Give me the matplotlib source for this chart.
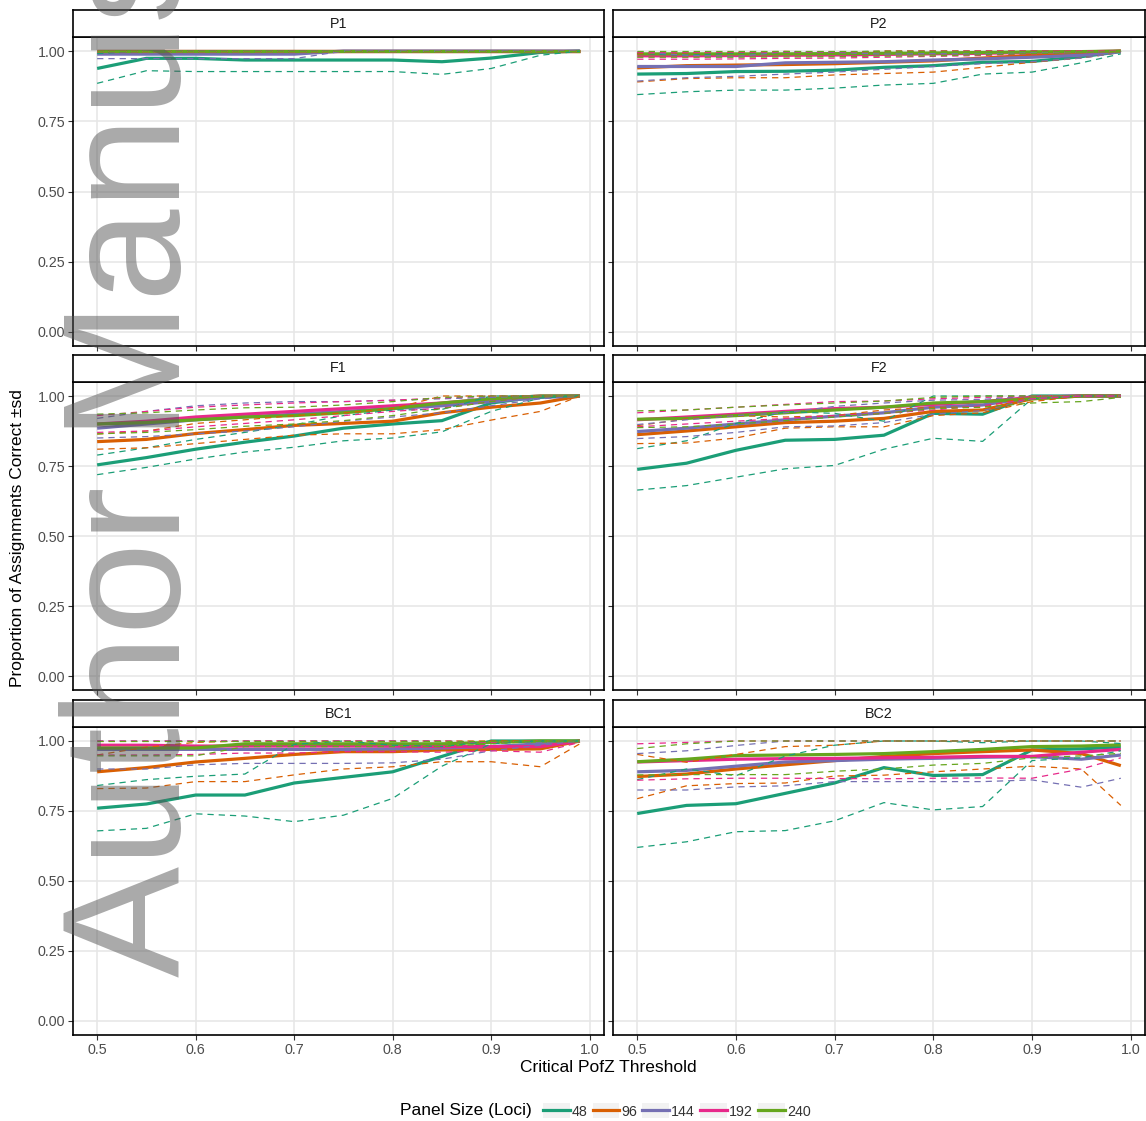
import numpy as np
import matplotlib
matplotlib.use("Agg")
import matplotlib.pyplot as plt
from matplotlib.patches import Patch
from matplotlib.lines import Line2D
from matplotlib.legend_handler import HandlerTuple

plt.rcParams['font.family'] = ['Liberation Sans', 'DejaVu Sans']

# ---- data -------------------------------------------------------------
thresholds = [0.50, 0.55, 0.60, 0.65, 0.70, 0.75, 0.80, 0.85, 0.90, 0.95, 0.99]
panel_sizes = ['48', '96', '144', '192', '240']
panel_names = ['P1', 'P2', 'F1', 'F2', 'BC1', 'BC2']

# mean proportion correct, one row per panel size (48, 96, 144, 192, 240)
p1_mean = [[0.938, 0.974, 0.974, 0.968, 0.968, 0.968, 0.968, 0.962, 0.975, 0.995, 1.0],
           [1.0, 1.0, 1.0, 1.0, 1.0, 1.0, 1.0, 1.0, 1.0, 1.0, 1.0],
           [0.989, 0.989, 0.989, 0.989, 0.989, 1.0, 1.0, 1.0, 1.0, 1.0, 1.0],
           [1.0, 1.0, 1.0, 1.0, 1.0, 1.0, 1.0, 1.0, 1.0, 1.0, 1.0],
           [1.0, 1.0, 1.0, 1.0, 1.0, 1.0, 1.0, 1.0, 1.0, 1.0, 1.0]]
p1_sd = [[0.053, 0.044, 0.047, 0.041, 0.041, 0.041, 0.041, 0.045, 0.037, 0.01, 0.0],
         [0.0, 0.0, 0.0, 0.0, 0.0, 0.0, 0.0, 0.0, 0.0, 0.0, 0.0],
         [0.016, 0.016, 0.016, 0.016, 0.016, 0.0, 0.0, 0.0, 0.0, 0.0, 0.0],
         [0.0, 0.0, 0.0, 0.0, 0.0, 0.0, 0.0, 0.0, 0.0, 0.0, 0.0],
         [0.0, 0.0, 0.0, 0.0, 0.0, 0.0, 0.0, 0.0, 0.0, 0.0, 0.0]]

p2_mean = [[0.918, 0.92, 0.927, 0.928, 0.932, 0.942, 0.948, 0.96, 0.963, 0.98, 0.998],
           [0.94, 0.948, 0.95, 0.952, 0.955, 0.96, 0.965, 0.975, 0.985, 0.99, 1.0],
           [0.945, 0.945, 0.945, 0.958, 0.96, 0.962, 0.968, 0.972, 0.978, 0.985, 0.998],
           [0.983, 0.983, 0.984, 0.985, 0.986, 0.988, 0.99, 0.992, 0.995, 0.997, 1.0],
           [0.99, 0.99, 0.99, 0.99, 0.991, 0.992, 0.993, 0.995, 0.997, 0.998, 1.0]]
p2_sd = [[0.073, 0.065, 0.066, 0.067, 0.064, 0.063, 0.063, 0.042, 0.038, 0.022, 0.008],
         [0.05, 0.046, 0.045, 0.047, 0.04, 0.04, 0.04, 0.033, 0.025, 0.015, 0.005],
         [0.052, 0.04, 0.035, 0.04, 0.035, 0.027, 0.023, 0.017, 0.016, 0.01, 0.003],
         [0.012, 0.012, 0.012, 0.011, 0.011, 0.01, 0.009, 0.008, 0.005, 0.003, 0.0],
         [0.012, 0.012, 0.012, 0.011, 0.011, 0.01, 0.01, 0.008, 0.006, 0.004, 0.0]]

f1_mean = [[0.754, 0.78, 0.81, 0.835, 0.857, 0.885, 0.9, 0.912, 0.975, 0.998, 1.0],
           [0.837, 0.845, 0.866, 0.88, 0.895, 0.902, 0.91, 0.94, 0.96, 0.975, 1.0],
           [0.885, 0.9, 0.915, 0.925, 0.935, 0.945, 0.955, 0.965, 0.98, 0.995, 1.0],
           [0.9, 0.91, 0.925, 0.935, 0.945, 0.955, 0.965, 0.975, 0.99, 1.0, 1.0],
           [0.9, 0.905, 0.915, 0.925, 0.93, 0.94, 0.955, 0.975, 0.99, 1.0, 1.0]]
f1_sd = [[0.035, 0.035, 0.035, 0.035, 0.04, 0.045, 0.05, 0.04, 0.03, 0.005, 0.0],
         [0.027, 0.03, 0.036, 0.035, 0.035, 0.037, 0.045, 0.06, 0.046, 0.03, 0.0],
         [0.035, 0.045, 0.05, 0.05, 0.045, 0.035, 0.03, 0.025, 0.015, 0.005, 0.0],
         [0.03, 0.035, 0.035, 0.033, 0.03, 0.025, 0.02, 0.018, 0.01, 0.0, 0.0],
         [0.035, 0.035, 0.035, 0.033, 0.03, 0.028, 0.025, 0.02, 0.01, 0.0, 0.0]]

f2_mean = [[0.738, 0.76, 0.806, 0.842, 0.845, 0.86, 0.938, 0.935, 1.0, 1.0, 1.0],
           [0.862, 0.875, 0.89, 0.905, 0.91, 0.92, 0.945, 0.95, 0.99, 1.0, 1.0],
           [0.873, 0.885, 0.9, 0.915, 0.928, 0.94, 0.96, 0.968, 0.995, 1.0, 1.0],
           [0.915, 0.925, 0.935, 0.945, 0.955, 0.96, 0.97, 0.98, 0.995, 1.0, 1.0],
           [0.917, 0.92, 0.93, 0.94, 0.95, 0.96, 0.975, 0.98, 0.99, 1.0, 1.0]]
f2_sd = [[0.074, 0.08, 0.096, 0.102, 0.093, 0.05, 0.089, 0.097, 0.01, 0.0, 0.0],
         [0.032, 0.043, 0.04, 0.02, 0.02, 0.03, 0.015, 0.01, 0.01, 0.0, 0.0],
         [0.025, 0.03, 0.03, 0.025, 0.035, 0.035, 0.025, 0.02, 0.005, 0.0, 0.0],
         [0.025, 0.025, 0.025, 0.025, 0.025, 0.022, 0.02, 0.015, 0.005, 0.0, 0.0],
         [0.03, 0.03, 0.03, 0.028, 0.025, 0.022, 0.02, 0.02, 0.015, 0.02, 0.005]]

bc1_mean = [[0.76, 0.775, 0.807, 0.807, 0.85, 0.87, 0.89, 0.945, 1.0, 1.0, 1.0],
            [0.89, 0.905, 0.925, 0.938, 0.952, 0.962, 0.962, 0.968, 0.97, 0.972, 1.0],
            [0.97, 0.97, 0.97, 0.97, 0.97, 0.97, 0.972, 0.975, 0.98, 0.99, 1.0],
            [0.985, 0.985, 0.982, 0.982, 0.982, 0.982, 0.982, 0.98, 0.98, 0.98, 1.0],
            [0.975, 0.975, 0.975, 0.99, 0.99, 0.99, 0.99, 0.99, 0.995, 1.0, 1.0]]
bc1_sd = [[0.081, 0.087, 0.067, 0.075, 0.138, 0.135, 0.095, 0.035, 0.01, 0.0, 0.0],
          [0.06, 0.073, 0.07, 0.083, 0.073, 0.062, 0.054, 0.042, 0.044, 0.064, 0.01],
          [0.07, 0.07, 0.055, 0.05, 0.05, 0.05, 0.05, 0.04, 0.015, 0.005, 0.0],
          [0.035, 0.035, 0.03, 0.025, 0.025, 0.02, 0.02, 0.02, 0.015, 0.02, 0.005],
          [0.028, 0.028, 0.028, 0.01, 0.01, 0.01, 0.01, 0.01, 0.005, 0.0, 0.0]]

bc2_mean = [[0.741, 0.77, 0.776, 0.813, 0.85, 0.905, 0.877, 0.88, 0.968, 0.972, 0.978],
            [0.873, 0.882, 0.9, 0.915, 0.93, 0.945, 0.955, 0.962, 0.968, 0.955, 0.912],
            [0.89, 0.895, 0.91, 0.925, 0.93, 0.935, 0.938, 0.942, 0.944, 0.935, 0.95],
            [0.925, 0.93, 0.935, 0.937, 0.938, 0.94, 0.942, 0.945, 0.945, 0.96, 0.97],
            [0.926, 0.935, 0.948, 0.95, 0.952, 0.955, 0.962, 0.97, 0.98, 0.982, 0.986]]
bc2_sd = [[0.121, 0.13, 0.1, 0.133, 0.135, 0.125, 0.123, 0.114, 0.038, 0.032, 0.013],
          [0.079, 0.042, 0.052, 0.065, 0.055, 0.067, 0.065, 0.062, 0.058, 0.055, 0.142],
          [0.065, 0.07, 0.074, 0.085, 0.075, 0.08, 0.083, 0.087, 0.083, 0.1, 0.083],
          [0.065, 0.065, 0.068, 0.07, 0.072, 0.075, 0.075, 0.077, 0.078, 0.06, 0.03],
          [0.047, 0.055, 0.068, 0.07, 0.06, 0.055, 0.048, 0.05, 0.04, 0.035, 0.03]]

means = [p1_mean, p2_mean, f1_mean, f2_mean, bc1_mean, bc2_mean]
sds = [p1_sd, p2_sd, f1_sd, f2_sd, bc1_sd, bc2_sd]

# Dark2 palette
colors = ['#1B9E77', '#D95F02', '#7570B3', '#E7298A', '#66A61E']

# ---- layout (pixel boxes) ------------------------------------------------
W, H = 1146, 1121
fig = plt.figure(figsize=(W / 100, H / 100), dpi=100)

col_x = [(73, 604), (613, 1145)]
row_y = [(37, 346), (382, 690), (727, 1035)]
strip_h = 27

def box(x0, x1, y0, y1):
    return [x0 / W, 1 - y1 / H, (x1 - x0) / W, (y1 - y0) / H]

x = np.array(thresholds)
for i, name in enumerate(panel_names):
    r, c = divmod(i, 2)
    x0, x1 = col_x[c]
    y0, y1 = row_y[r]
    ax = fig.add_axes(box(x0, x1, y0, y1))

    m = np.array(means[i])
    s = np.array(sds[i])
    # solid means first, then dashed +/- sd on top
    for k in range(5):
        ax.plot(x, m[k], color=colors[k], lw=2.3, solid_capstyle='butt', zorder=2)
    for k in range(5):
        ax.plot(x, np.minimum(m[k] + s[k], 1.0), color=colors[k], lw=0.9,
                linestyle=(0, (5, 4)), zorder=3)
    for k in range(5):
        ax.plot(x, m[k] - s[k], color=colors[k], lw=0.9,
                linestyle=(0, (5, 4)), zorder=3)

    ax.set_xlim(0.4755, 1.0145)
    ax.set_ylim(-0.05, 1.05)
    ax.set_xticks([0.5, 0.6, 0.7, 0.8, 0.9, 1.0])
    ax.set_yticks([0, 0.25, 0.5, 0.75, 1.0])
    ax.grid(True, color='#E6E6E6', lw=1.1)
    ax.set_axisbelow(True)
    for sp in ax.spines.values():
        sp.set_color('black')
        sp.set_linewidth(1.2)
    ax.tick_params(direction='out', length=3.5, width=0.8, color='#333333',
                   labelsize=10.3, labelcolor='#4D4D4D', pad=2)
    if c == 0:
        ax.set_yticklabels(['0.00', '0.25', '0.50', '0.75', '1.00'])
    else:
        ax.set_yticklabels([])
    if r == 2:
        ax.set_xticklabels(['0.5', '0.6', '0.7', '0.8', '0.9', '1.0'])
    else:
        ax.set_xticklabels([])

    # facet strip
    st = fig.add_axes(box(x0, x1, y0 - strip_h, y0))
    st.set_xticks([])
    st.set_yticks([])
    st.set_facecolor('white')
    for sp in st.spines.values():
        sp.set_color('black')
        sp.set_linewidth(1.2)
    st.text(0.5, 0.5, name, ha='center', va='center', fontsize=10.3,
            color='#1A1A1A', transform=st.transAxes)

# axis titles
fig.text(608 / W, 1 - 1067 / H, 'Critical PofZ Threshold', ha='center',
         va='center', fontsize=12.5)
fig.text(18 / W, 1 - 538 / H, 'Proportion of Assignments Correct \u00b1sd',
         ha='center', va='center', rotation=90, fontsize=12.5)

# legend
fig.text(532 / W, 1 - 1111 / H, 'Panel Size (Loci)', ha='right', va='center',
         fontsize=12.5)
handles = [(Patch(facecolor='#F2F2F2', edgecolor='none'),
            Line2D([], [], color=col, lw=2.3)) for col in colors]
fig.legend(handles, panel_sizes, ncol=5, loc='center left',
           bbox_to_anchor=(543 / W, 1 - 1111 / H), frameon=False,
           borderpad=0, borderaxespad=0,
           handler_map={tuple: HandlerTuple(ndivide=1)},
           handlelength=1.87, handleheight=1.25, handletextpad=0.15,
           columnspacing=0.35, fontsize=10.3, labelcolor='#333333')

# "Author Manuscript" watermark
fig.text(180 / W, 1 - 977 / H, 'Author Manuscript', rotation=90,
         rotation_mode='anchor', ha='left', va='baseline', fontsize=120,
         color='#555555', alpha=0.5, zorder=10)

fig.savefig('out.png', dpi=100)
